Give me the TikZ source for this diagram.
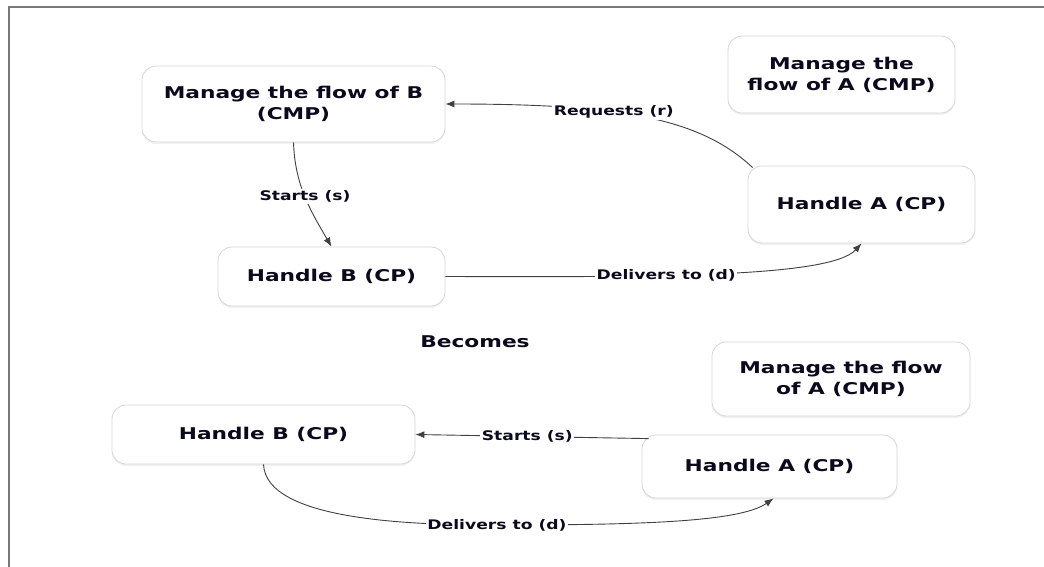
\documentclass[tikz,border=0pt]{standalone}
\usepackage{fontspec}
\usetikzlibrary{arrows.meta,shadows}
\newfontfamily\dfont{DejaVu Sans}[FakeStretch=1.34,BoldFont={DejaVu Sans Bold}]
\newfontfamily\efont{DejaVu Sans}[FakeStretch=1.30,BoldFont={DejaVu Sans Bold}]
\newcommand{\nodefont}{\dfont\bfseries\fontsize{16.2}{21}\selectfont}
\newcommand{\edgefont}{\efont\bfseries\fontsize{13.2}{15}\selectfont}
\definecolor{ink}{RGB}{10,10,28}
\definecolor{boxline}{RGB}{212,214,218}
\definecolor{wire}{RGB}{65,65,65}
\definecolor{framegray}{RGB}{120,120,120}
\tikzset{
  box/.style={draw=boxline, line width=0.8pt, rounded corners=14pt, fill=white,
    align=center, font=\nodefont, text=ink, inner sep=0pt,
    drop shadow={opacity=0.10, shadow xshift=0pt, shadow yshift=-2pt}},
  plain/.style={font=\nodefont, text=ink, inner sep=0pt},
  lbl/.style={font=\edgefont, text=ink, fill=white, inner sep=1.5pt},
  arr/.style={draw=wire, line width=0.9pt, -{Latex[length=9pt,width=7pt]}}
}
\begin{document}
\begin{tikzpicture}[x=1pt,y=-1pt]
  \fill[white] (0,0) rectangle (1044,567);
  \useasboundingbox (0,0) rectangle (1044,567);
  % frame on the left and top edges
  \draw[framegray, line width=1.8pt] (9,567) -- (9,7) -- (1044,7);

  % first arrangement
  \node[box, minimum width=303pt, minimum height=76pt] (MB) at (293.5,104)
    {Manage the flow of B\\(CMP)};
  \node[box, minimum width=227pt, minimum height=77pt] (MA1) at (841.5,74.5)
    {Manage the\\flow of A (CMP)};
  \node[box, minimum width=227pt, minimum height=77pt] (HA1) at (861.5,204.5)
    {Handle A (CP)};
  \node[box, minimum width=227pt, minimum height=59pt] (HB1) at (331.5,276.5)
    {Handle B (CP)};

  \draw[arr] ([xshift=5pt,yshift=-2pt]HA1.north west)
    .. controls (700,118) and (620,104) .. (MB.east)
    node[lbl, pos=0.6] {Requests (r)};
  \draw[arr] (MB.south) .. controls (295,185) and (310,210) .. (HB1.north)
    node[lbl, pos=0.5] {Starts (s)};
  \draw[arr] (HB1.east) .. controls (650,277) and (830,278) .. (HA1.south)
    node[lbl, pos=0.39] {Delivers to (d)};

  \node[plain] (becomes) at (475,342) {Becomes};

  % second arrangement
  \node[box, minimum width=258pt, minimum height=74pt] (MA2) at (841,379)
    {Manage the flow\\of A (CMP)};
  \node[box, minimum width=303pt, minimum height=59pt] (HB2) at (263.5,434.5)
    {Handle B (CP)};
  \node[box, minimum width=255pt, minimum height=63pt] (HA2) at (769.5,466.5)
    {Handle A (CP)};

  \draw[arr] ([xshift=7pt,yshift=-4pt]HA2.north west) -- (HB2.east)
    node[lbl, pos=0.52] {Starts (s)};
  \draw[arr] (HB2.south) .. controls (266,522) and (420,525) .. (497,525)
    node[lbl] {Delivers to (d)}
    .. controls (640,525) and (740,522) .. ([xshift=4pt]HA2.south);
\end{tikzpicture}
\end{document}
